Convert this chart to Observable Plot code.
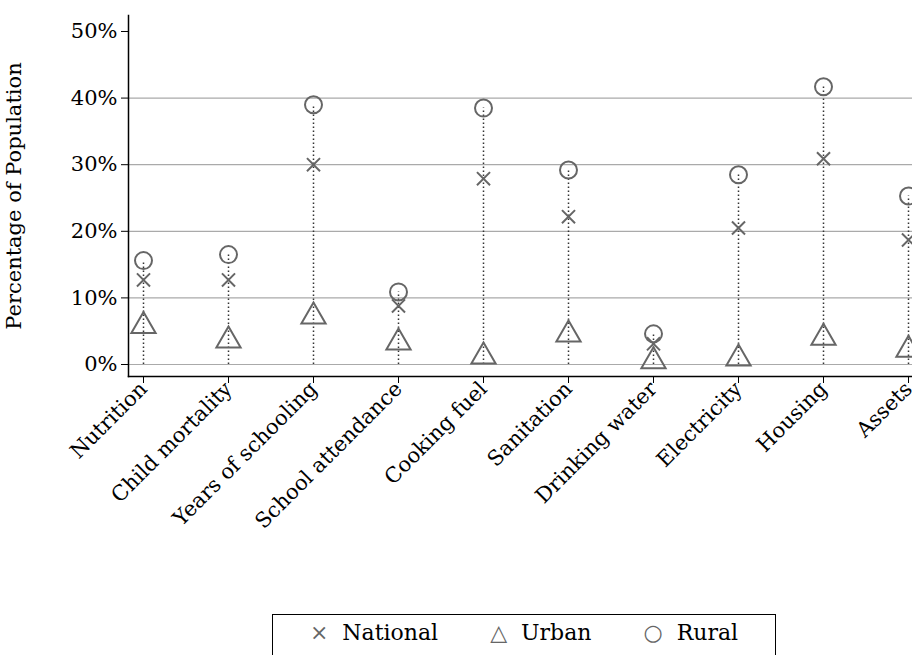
<!DOCTYPE html>
<html><head><meta charset="utf-8">
<script src="https://cdn.jsdelivr.net/npm/d3@7"></script>
<script src="https://cdn.jsdelivr.net/npm/@observablehq/plot@0.6"></script>
<style>
body{margin:0;background:#fff;font-family:"DejaVu Serif",serif;}
#wrap{position:relative;width:912px;height:655px;overflow:hidden;}
#legend{position:absolute;left:272px;top:614px;width:504px;height:50px;border:1.5px solid #000;box-sizing:border-box;display:flex;align-items:flex-start;justify-content:center;gap:52px;padding-top:5px;font-size:22px;color:#000;}
#legend span.s{color:#666;margin-right:14px;}
</style></head><body>
<div id="wrap"><div id="chart"></div>
<div id="legend"><div><span class="s">×</span>National</div><div><span class="s">△</span>Urban</div><div><span class="s">○</span>Rural</div></div></div>
<script>
const categories=["Nutrition","Child mortality","Years of schooling","School attendance","Cooking fuel","Sanitation","Drinking water","Electricity","Housing","Assets"];
const national=[12.7,12.7,30.0,8.8,27.9,22.2,3.1,20.5,30.9,18.7];
const urban=[5.8,3.6,7.2,3.3,1.2,4.5,0.5,0.9,4.0,2.2];
const rural=[15.6,16.5,39.0,10.9,38.5,29.2,4.6,28.5,41.7,25.3];
const rows=categories.map((c,i)=>({c,n:national[i],u:urban[i],r:rural[i]}));
const gray="#666";
const p=Plot.plot({
  width:912,height:596,marginLeft:128,marginTop:15,marginBottom:220,marginRight:0,
  style:{fontFamily:"DejaVu Serif, serif",fontSize:"21px",color:"#000",background:"#fff",overflow:"visible"},
  x:{type:"point",domain:categories,range:[143,908],padding:0,label:null},
  y:{domain:[-1.8,52.4],label:null},
  marks:[
    Plot.ruleY([0,10,20,30,40],{stroke:"#aaa",strokeWidth:1.2,strokeOpacity:1}),
    Plot.ruleX(rows,{x:"c",y1:0,y2:"r",stroke:"#333",strokeWidth:1.5,strokeDasharray:"1.5,2.5"}),
    Plot.dot(rows,{x:"c",y:"n",symbol:"times",r:6,stroke:gray,strokeWidth:2}),
    Plot.dot(rows,{x:"c",y:"u",symbol:"triangle",r:9,stroke:gray,strokeWidth:2,fill:"none"}),
    Plot.dot(rows,{x:"c",y:"r",symbol:"circle",r:8.5,stroke:gray,strokeWidth:2,fill:"none"}),
    Plot.frame({anchor:"left",stroke:"#000",strokeWidth:1.5}),
    Plot.frame({anchor:"bottom",stroke:"#000",strokeWidth:1.5}),
    Plot.axisY({ticks:[0,10,20,30,40,50],tickFormat:d=>d+"%",tickSize:7,tickPadding:4,fontSize:21,label:null}),
    Plot.text(["Percentage of Population"],{frameAnchor:"left",dx:-114,rotate:-90,textAnchor:"middle",fontSize:21,text:d=>d}),
    Plot.axisX({tickSize:7,tickRotate:-45,fontSize:21,tickPadding:2,label:null})
  ]
});
document.getElementById("chart").appendChild(p);
</script></body></html>
